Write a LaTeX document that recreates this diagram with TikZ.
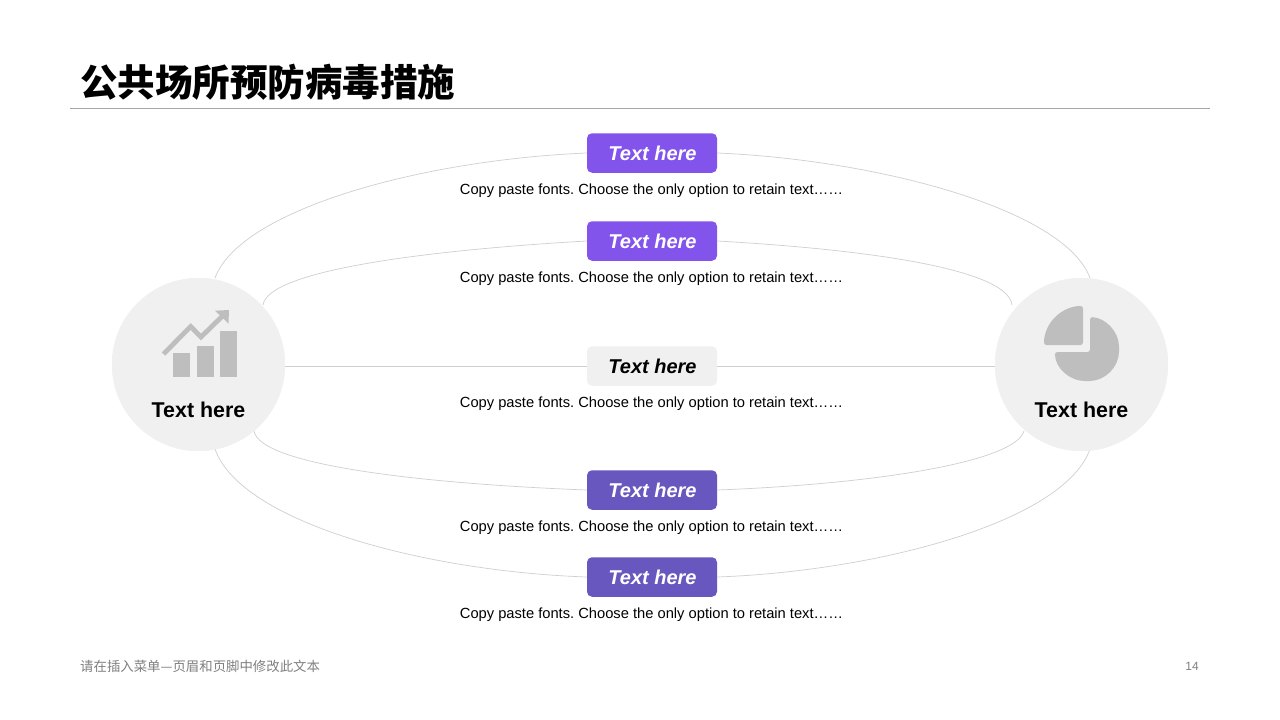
\documentclass[tikz,border=0pt]{standalone}
\usepackage{fontspec}
\setmainfont{Liberation Sans}
\newfontfamily\cjk{Noto Sans CJK SC}
\usetikzlibrary{calc}
\frenchspacing
\definecolor{violetA}{HTML}{8254EC}
\definecolor{violetB}{HTML}{6857BE}
\definecolor{softgray}{HTML}{F0F0F0}
\definecolor{icongray}{HTML}{BEBEBE}
\definecolor{linegray}{HTML}{CFCFCF}
\definecolor{rulegray}{HTML}{A6A6A6}
\tikzset{
  x=1pt,y=-1pt,
  pill/.style={rounded corners=5pt,minimum width=130pt,minimum height=39.5pt,inner sep=0pt,font=\fontsize{20}{24}\selectfont\bfseries\itshape,text=white},
  hub/.style={circle,fill=softgray,minimum size=173pt,inner sep=0pt},
  hubtext/.style={font=\fontsize{21.4}{25}\selectfont\bfseries,text=black,inner sep=0pt},
  note/.style={font=\fontsize{14.7}{17}\selectfont,text=black,inner sep=0pt},
  link/.style={draw=linegray,line width=0.7pt},
  ico/.style={fill=icongray,draw=none},
}
\begin{document}
\begin{tikzpicture}
\useasboundingbox (0,0) rectangle (1280,720);
\fill[white] (0,0) rectangle (1280,720);
\node[anchor=west,inner sep=0pt,font=\cjk\fontsize{37.5}{44}\selectfont\bfseries] (title) at (80,82) {公共场所预防病毒措施};
\coordinate (ruleL) at (70,108.5);
\coordinate (ruleR) at (1210,108.5);
\draw[draw=rulegray,line width=0.7pt] (ruleL) -- (ruleR);

\node[hub] (L) at (198.5,364.5) {};
\node[hub] (R) at (1081.5,364.5) {};

\node[pill,fill=violetA] (p1) at (652,153) {\hspace{1pt}Text here};
\node[pill,fill=violetA] (p2) at (652,241) {\hspace{1pt}Text here};
\node[pill,fill=softgray,text=black] (p3) at (652,366) {\hspace{1pt}Text here};
\node[pill,fill=violetB] (p4) at (652,490) {\hspace{1pt}Text here};
\node[pill,fill=violetB] (p5) at (652,577) {\hspace{1pt}Text here};

\node[note] (n1) at (651.5,190.5) {Copy paste fonts. Choose the only option to retain text\dots\dots};
\node[note] (n2) at (651.5,278.5) {Copy paste fonts. Choose the only option to retain text\dots\dots};
\node[note] (n3) at (651.5,403.5) {Copy paste fonts. Choose the only option to retain text\dots\dots};
\node[note] (n4) at (651.5,527.5) {Copy paste fonts. Choose the only option to retain text\dots\dots};
\node[note] (n5) at (651.5,614.5) {Copy paste fonts. Choose the only option to retain text\dots\dots};

% connectors
\coordinate (a1) at (215,278); \coordinate (b1) at (1090,278);
\coordinate (a2) at (263,305); \coordinate (b2) at (1012,305);
\coordinate (a4) at (254,431); \coordinate (b4) at (1024,431);
\coordinate (a5) at (215,449); \coordinate (b5) at (1090,449);
\draw[link] (a1) .. controls (240,210) and (420,160) .. (p1.west);
\draw[link] (p1.east) .. controls (880,160) and (1065,210) .. (b1);
\draw[link] (a2) .. controls (268,270) and (430,250) .. (p2.west);
\draw[link] (p2.east) .. controls (875,250) and (1008,270) .. (b2);
\draw[link] (p3.west) -- (p3.west -| L.east);
\draw[link] (p3.east) -- (p3.east -| R.west);
\draw[link] (a4) .. controls (260,466) and (430,484) .. (p4.west);
\draw[link] (p4.east) .. controls (875,484) and (1015,462) .. (b4);
\draw[link] (a5) .. controls (240,521) and (420,571) .. (p5.west);
\draw[link] (p5.east) .. controls (880,571) and (1065,521) .. (b5);
% hubs above line ends
\node[hub] at (L) {};
\node[hub] at (R) {};
\node[hubtext] (tL) at (198.5,410) {Text here};
\node[hubtext] (tR) at (1081.5,410) {Text here};

% chart icon
\fill[ico] (173,353) rectangle (190,377);
\fill[ico] (196.5,346) rectangle (213.5,377);
\fill[ico] (220,330.5) rectangle (237,377);
\draw[icongray,line width=4.8pt,miter limit=10] (163.5,354) -- (190.7,326.5) -- (201,337) -- (222,316.5);
\fill[ico] (215,310.7) -- (229,310) -- (228.5,323.5) -- cycle;

% pie icon
\fill[ico,rounded corners=2.5pt] (1083,345) -- (1044,345) .. controls (1044,323.5) and (1061.5,306) .. (1083,306) -- cycle;
\fill[ico,rounded corners=2.5pt] (1090,352) -- (1090,317) .. controls (1106,318) and (1119,332) .. (1119,349) .. controls (1119,367) and (1105,381) .. (1087,381) .. controls (1070,381) and (1055,368) .. (1055,352) -- cycle;

% footer
\node[anchor=west,inner sep=0pt,font=\cjk\fontsize{13.4}{16}\selectfont,text=gray] (foot) at (80,666) {请在插入菜单—页眉和页脚中修改此文本};
\node[inner sep=0pt,font=\fontsize{12}{14}\selectfont,text=gray] (page) at (1192,666) {14};
\end{tikzpicture}
\end{document}
